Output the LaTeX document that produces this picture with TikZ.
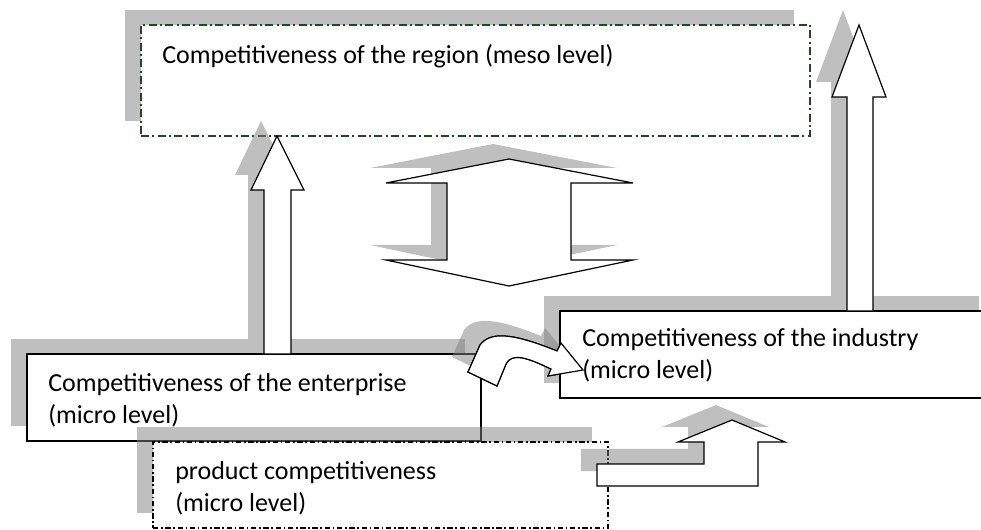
\documentclass[tikz,border=0pt]{standalone}
\usepackage{fontspec}
\setmainfont{Carlito}
\usetikzlibrary{
    positioning,
    fit,
    shadows
}
\definecolor{mesogreen}{RGB}{30,75,30}
\tikzset{
    boxshadow/.style = {drop shadow={shadow xshift=-12pt, shadow yshift=11.25pt, opacity=0.5, fill=black!50}},
    levelbox/.style = {draw=black, fill=white, line width=0.9pt, inner sep=0pt, boxshadow},
    mesobox/.style = {levelbox, draw=mesogreen, dash pattern=on 6pt off 2.5pt on 1.5pt off 2.5pt},
    productbox/.style = {levelbox, dash pattern=on 4pt off 2pt on 1.2pt off 2pt},
    blockarrow/.style = {draw=black, fill=white, line width=0.9pt, line join=miter},
    leveltext/.style = {anchor=base west, inner sep=0pt, align=left, font=\fontsize{19.5pt}{24pt}\selectfont},
}
\newcommand{\bendarrowpath}{(468,372) -- (480,345) .. controls (490,332) and (510,332) .. (557,351) -- (561,343) -- (583,370) -- (548,376) -- (551,369) .. controls (528,358) and (512,352) .. (506,364) -- (497,386) -- cycle}

\begin{document}
\begin{tikzpicture}[x=0.75pt, y=-0.75pt]
\useasboundingbox (0,0) rectangle (981,530);

% meso level
\node[mesobox, fit={(141,25) (810,136)}] (region) {};

% two-way arrow under the region
\draw[blockarrow, boxshadow] (509,159) -- (633,183) -- (571,183) -- (571,260) -- (633,260) -- (509,286)
    -- (386,260) -- (447,260) -- (447,183) -- (386,183) -- cycle;

% enterprise and its arrow up
\node[levelbox, fit={(27,354) (481,441)}] (enterprise) {};
\draw[blockarrow, boxshadow] (264,354) -- (264,190) -- (251,190) -- (277,136) -- (304,190) -- (291,190) -- (291,354) -- cycle;

% product
\node[productbox, fit={(153,442) (608,528)}] (product) {};

% curved arrow enterprise -> industry
\draw[blockarrow, boxshadow] \bendarrowpath;

% industry and its arrow up
\node[levelbox, fit={(560,311) (995,398)}] (industry) {};
\draw[blockarrow] \bendarrowpath;
\draw[blockarrow, boxshadow] (847,311) -- (847,97) -- (832,97) -- (859,25) -- (886,97) -- (873,97) -- (873,311) -- cycle;

% product -> industry
\draw[blockarrow, boxshadow] (597,486) -- (758,486) -- (758,442) -- (785,442) -- (732,420) -- (678,442)
    -- (704,442) -- (704,464) -- (597,464) -- cycle;

% texts (base = last line)
\node[leveltext] (regiontext) at (162,64) {Competitiveness of the region (meso level)};
\node[leveltext] (enterprisetext) at (48,424) {Competitiveness of the enterprise\\(micro level)};
\node[leveltext] (producttext) at (175,511) {product competitiveness\\(micro level)};
\node[leveltext] (industrytext) at (582,379) {Competitiveness of the industry\\(micro level)};
\end{tikzpicture}
\end{document}
